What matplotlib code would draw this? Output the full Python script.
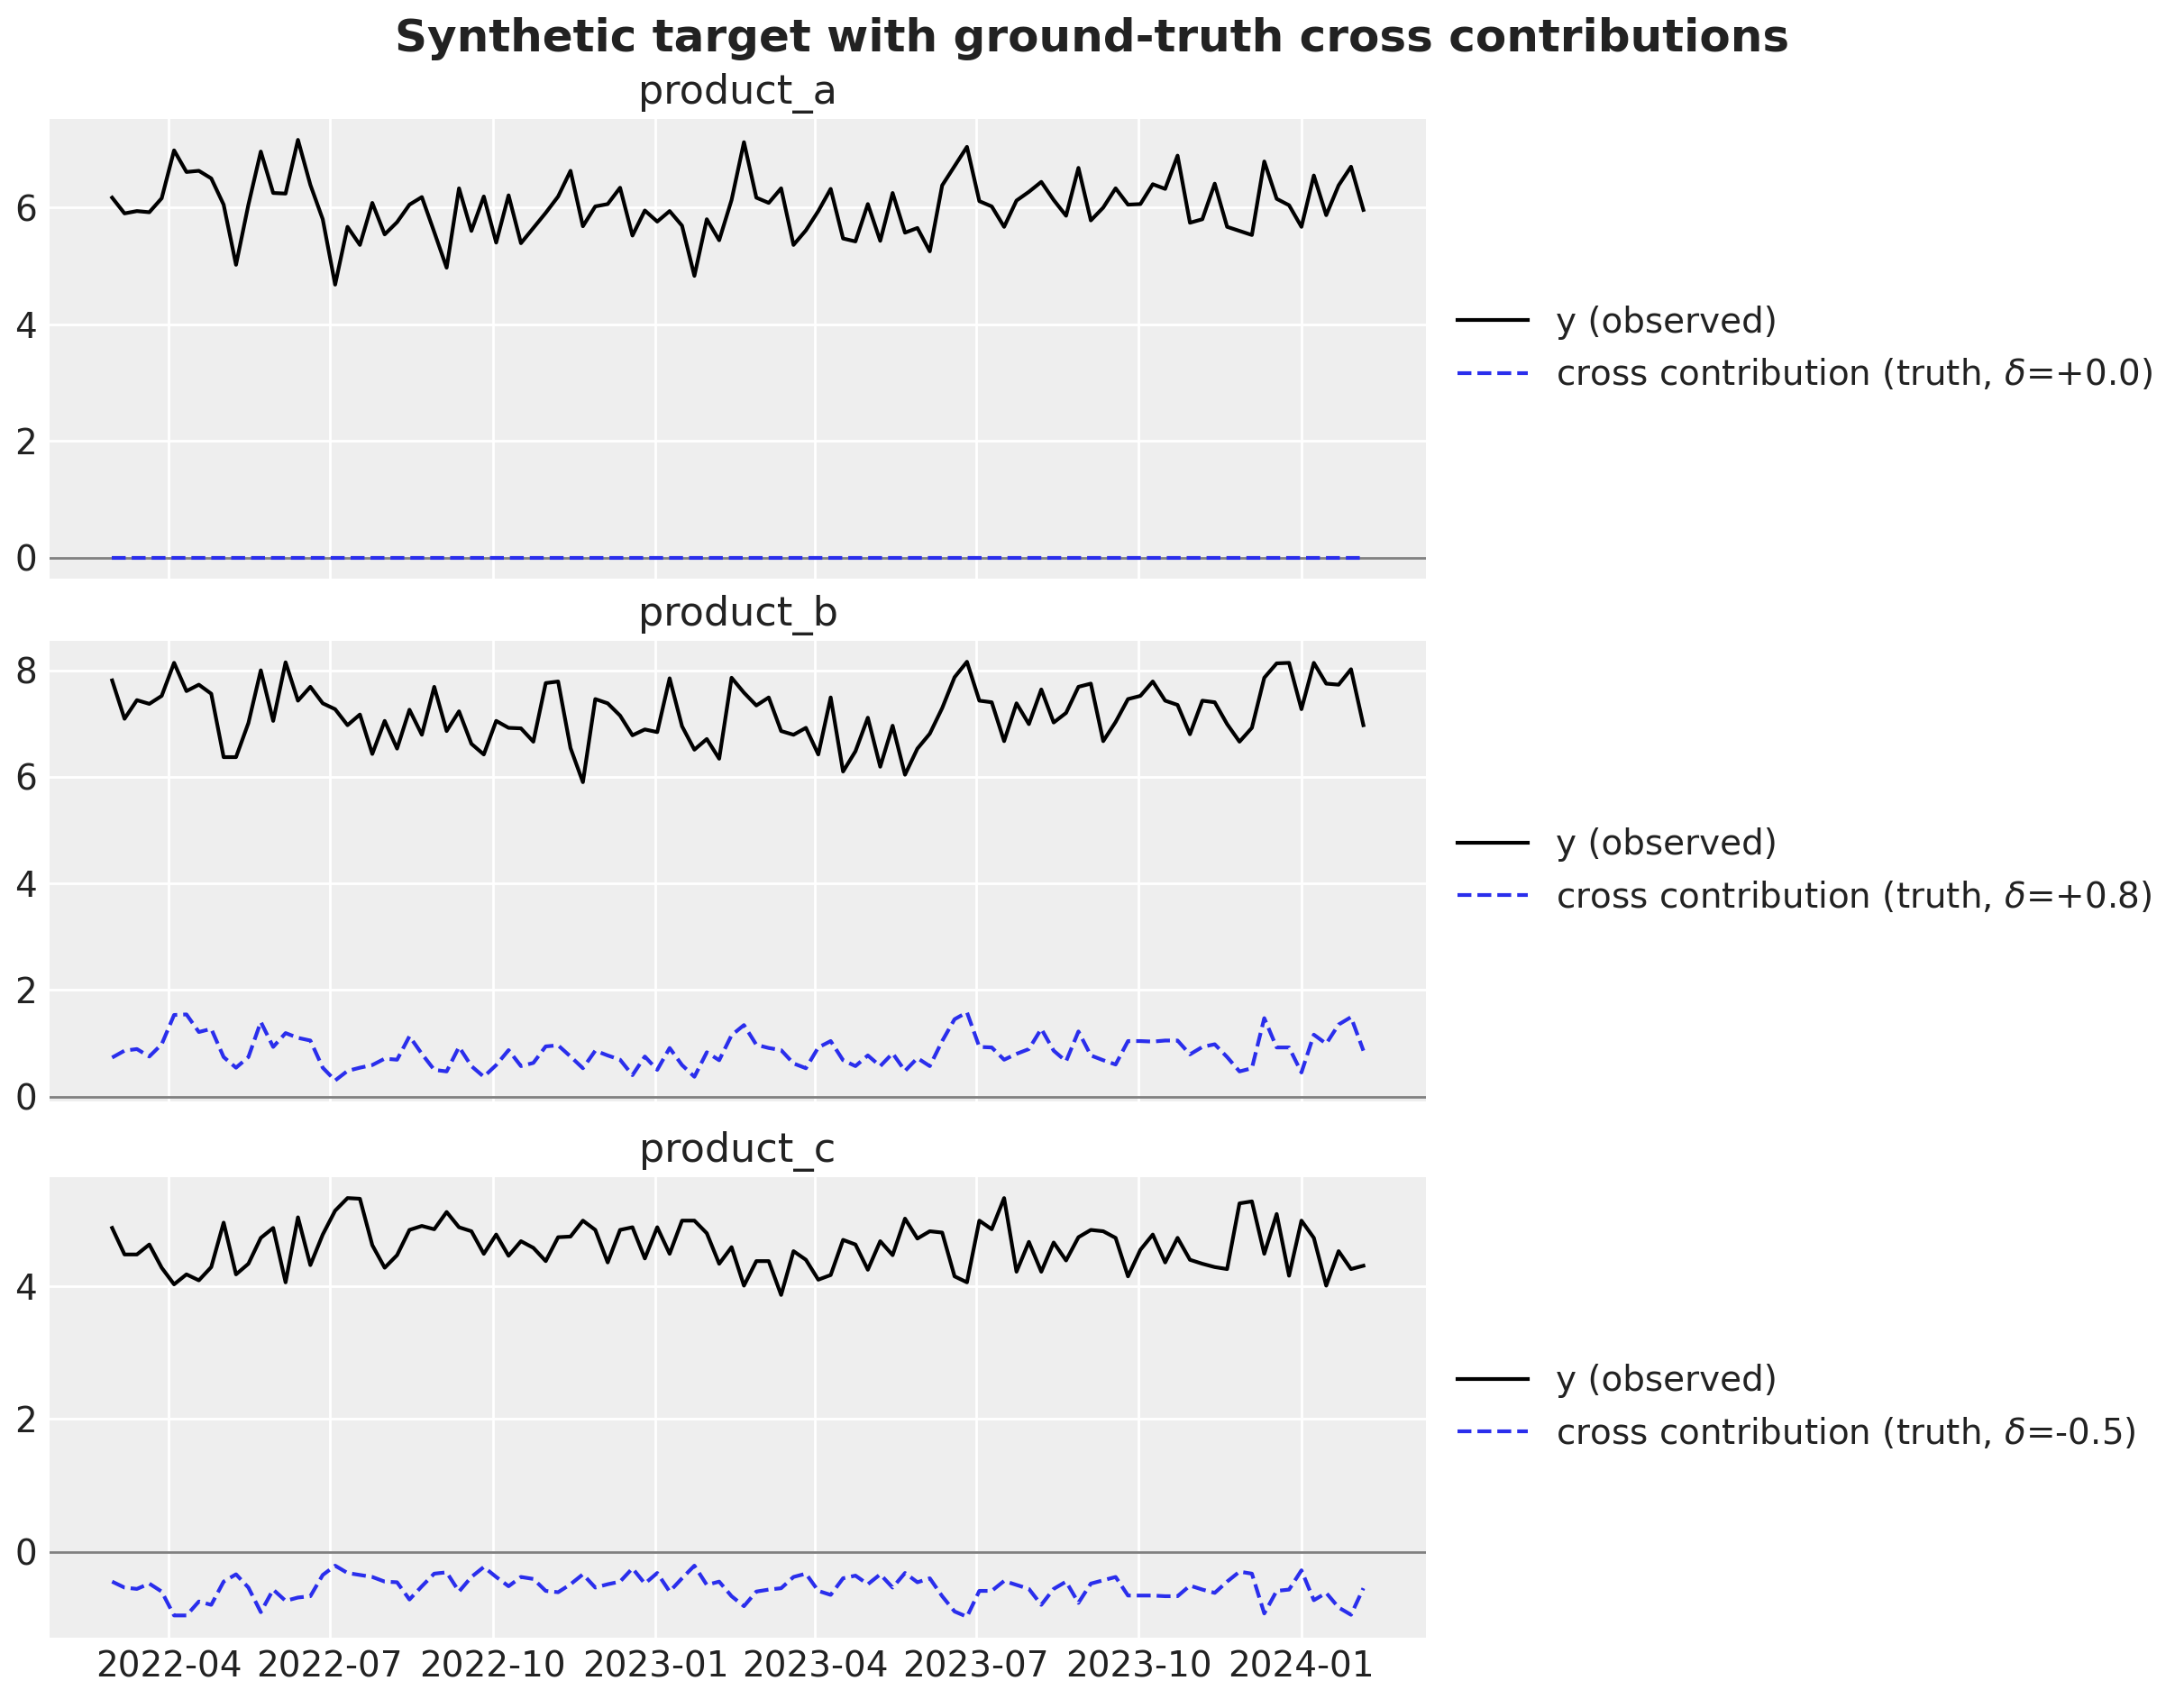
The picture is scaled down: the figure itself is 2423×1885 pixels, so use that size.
import matplotlib
matplotlib.use("Agg")
import matplotlib.pyplot as plt
import pandas as pd
import numpy as np

dates = pd.date_range("2022-02-28", periods=102, freq="7D")

products = ["product_a", "product_b", "product_c"]
deltas = [0.0, 0.8, -0.5]

y_a = [6.17,5.90,5.94,5.92,6.16,6.98,6.61,6.63,6.50,6.05,
5.02,6.05,6.96,6.25,6.24,7.16,6.39,5.80,4.68,5.67,
5.36,6.08,5.54,5.75,6.05,6.18,5.58,4.97,6.33,5.60,
6.19,5.40,6.21,5.39,5.65,5.91,6.19,6.63,5.68,6.02,
6.06,6.34,5.52,5.95,5.76,5.94,5.69,4.83,5.80,5.44,
6.13,7.12,6.17,6.08,6.33,5.36,5.61,5.94,6.32,5.47,
5.42,6.06,5.43,6.25,5.57,5.65,5.25,6.38,6.71,7.04,
6.11,6.02,5.67,6.12,6.27,6.44,6.13,5.86,6.68,5.78,
6.00,6.33,6.05,6.06,6.40,6.32,6.89,5.74,5.80,6.41,
5.67,5.60,5.53,6.79,6.15,6.04,5.67,6.55,5.87,6.38,
6.70,5.96]
cross_a = [0.0] * 102

y_b = [7.81,7.09,7.44,7.37,7.52,8.14,7.61,7.73,7.56,6.37,
6.37,7.01,8.00,7.05,8.15,7.43,7.69,7.38,7.27,6.97,
7.17,6.43,7.05,6.53,7.26,6.79,7.69,6.86,7.23,6.62,
6.42,7.05,6.92,6.91,6.66,7.76,7.79,6.54,5.90,7.46,
7.38,7.15,6.78,6.89,6.84,7.85,6.95,6.51,6.71,6.34,
7.86,7.58,7.34,7.49,6.86,6.79,6.92,6.42,7.49,6.10,
6.48,7.11,6.19,6.96,6.04,6.53,6.81,7.29,7.87,8.16,
7.43,7.40,6.67,7.38,6.99,7.64,7.02,7.20,7.69,7.75,
6.67,7.03,7.46,7.52,7.79,7.43,7.35,6.80,7.43,7.40,
6.99,6.66,6.92,7.86,8.13,8.14,7.27,8.14,7.75,7.73,
8.02,6.97]
cross_b = [0.73,0.86,0.89,0.75,0.98,1.53,1.54,1.21,1.27,0.74,
0.54,0.74,1.40,0.93,1.19,1.10,1.05,0.54,0.30,0.48,
0.54,0.59,0.71,0.69,1.13,0.80,0.50,0.47,0.93,0.57,
0.37,0.59,0.87,0.57,0.63,0.94,0.96,0.75,0.53,0.86,
0.77,0.69,0.40,0.75,0.50,0.91,0.59,0.37,0.83,0.68,
1.15,1.34,0.97,0.91,0.87,0.62,0.53,0.92,1.04,0.68,
0.57,0.77,0.57,0.81,0.48,0.72,0.57,1.04,1.45,1.58,
0.93,0.92,0.69,0.80,0.89,1.27,0.86,0.66,1.22,0.77,
0.68,0.60,1.04,1.04,1.03,1.05,1.05,0.79,0.93,0.98,
0.74,0.47,0.53,1.47,0.92,0.92,0.45,1.16,0.99,1.35,
1.49,0.86]

y_c = [4.88,4.48,4.48,4.63,4.28,4.03,4.18,4.09,4.29,4.96,
4.18,4.34,4.73,4.88,4.06,5.04,4.32,4.78,5.14,5.33,
5.32,4.62,4.28,4.47,4.85,4.91,4.86,5.12,4.89,4.83,
4.49,4.78,4.46,4.68,4.58,4.38,4.74,4.75,4.99,4.85,
4.36,4.85,4.89,4.42,4.89,4.49,4.99,4.99,4.80,4.34,
4.59,4.01,4.38,4.38,3.87,4.53,4.40,4.10,4.17,4.70,
4.63,4.25,4.68,4.47,5.02,4.72,4.83,4.81,4.15,4.06,
4.99,4.86,5.33,4.22,4.67,4.22,4.66,4.39,4.74,4.85,
4.83,4.73,4.15,4.55,4.78,4.36,4.73,4.40,4.34,4.29,
4.26,5.25,5.28,4.49,5.09,4.16,4.99,4.73,4.01,4.53,
4.26,4.31]
cross_c = [-0.45,-0.54,-0.56,-0.48,-0.60,-0.96,-0.96,-0.75,-0.80,-0.45,
-0.34,-0.54,-0.91,-0.57,-0.74,-0.69,-0.67,-0.35,-0.21,-0.32,
-0.35,-0.38,-0.45,-0.46,-0.72,-0.52,-0.33,-0.31,-0.60,-0.38,
-0.23,-0.38,-0.52,-0.38,-0.41,-0.59,-0.61,-0.49,-0.34,-0.54,
-0.49,-0.45,-0.25,-0.48,-0.32,-0.60,-0.40,-0.21,-0.50,-0.45,
-0.67,-0.82,-0.60,-0.57,-0.55,-0.38,-0.33,-0.59,-0.65,-0.40,
-0.36,-0.49,-0.34,-0.54,-0.32,-0.46,-0.40,-0.67,-0.90,-0.98,
-0.59,-0.59,-0.44,-0.50,-0.56,-0.80,-0.56,-0.45,-0.77,-0.48,
-0.43,-0.38,-0.66,-0.66,-0.66,-0.67,-0.67,-0.51,-0.57,-0.62,
-0.45,-0.30,-0.33,-0.93,-0.59,-0.57,-0.28,-0.73,-0.62,-0.84,
-0.95,-0.55]

observed = [y_a, y_b, y_c]
cross = [cross_a, cross_b, cross_c]

TEXT = "#222222"
plt.rcParams.update({
    "font.family": "DejaVu Sans",
    "text.color": TEXT,
    "axes.labelcolor": TEXT,
    "xtick.color": TEXT,
    "ytick.color": TEXT,
    "xtick.labelsize": 14,
    "ytick.labelsize": 14,
    "xtick.major.size": 0,
    "ytick.major.size": 0,
    "xtick.major.pad": 5,
    "ytick.major.pad": 5,
    "axes.facecolor": "#eeeeee",
    "axes.grid": True,
    "grid.color": "white",
    "grid.linewidth": 1.0,
    "axes.axisbelow": True,
})

W, H = 2423, 1885
DPI = 200
fig = plt.figure(figsize=(W / DPI, H / DPI), dpi=DPI)

boxes = [(132, 642), (711, 1222), (1306, 1817)]
left_px, right_px = 55, 1582
axes = []
for i, (top, bot) in enumerate(boxes):
    rect = [left_px / W, 1 - bot / H, (right_px - left_px) / W, (bot - top) / H]
    ax = fig.add_axes(rect, sharex=axes[0] if axes else None)
    axes.append(ax)

for ax, name, yv, cv, d in zip(axes, products, observed, cross, deltas):
    for s in ax.spines.values():
        s.set_visible(False)
    ax.plot(dates, yv, color="black", lw=1.5, label="y (observed)")
    ax.plot(dates, cv, color="#2a2eec", lw=1.5, ls="--",
            label=f"cross contribution (truth, $\\delta$={d:+.1f})")
    lim = ax.get_ylim()
    ax.axhline(0, color="gray", lw=1.0, zorder=1)
    ax.set_ylim(lim)
    ax.set_title(name, fontsize=16, color=TEXT)
    ax.legend(loc="center left", bbox_to_anchor=(1.0, 0.5), frameon=False,
              fontsize=14)

for ax in axes[:-1]:
    ax.tick_params(labelbottom=False)

fig.suptitle("Synthetic target with ground-truth cross contributions",
             fontsize=18, fontweight="bold", y=0.99, color=TEXT)

fig.savefig("out.png", dpi=DPI)
